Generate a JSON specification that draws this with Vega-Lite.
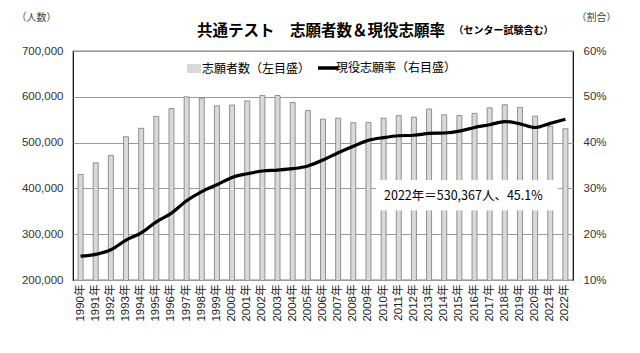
{
  "$schema": "https://vega.github.io/schema/vega-lite/v6.json",
  "width": 500,
  "height": 229,
  "autosize": {"type": "none"},
  "padding": {"left": 73, "top": 51, "right": 67, "bottom": 73},
  "background": "white",
  "config": {
    "view": {"stroke": "#000000", "strokeWidth": 1.2},
    "font": "Noto Sans CJK JP",
    "legend": {
      "orient": "none",
      "legendX": 115,
      "legendY": 11,
      "direction": "horizontal",
      "labelFontSize": 12,
      "labelFont": "Noto Sans CJK JP",
      "labelColor": "#000000",
      "symbolSize": 400,
      "columnPadding": 0,
      "labelOffset": 2
    }
  },
  "title": {
    "text": "共通テスト　志願者数＆現役志願率",
    "anchor": "start",
    "frame": "group",
    "dx": 124,
    "offset": -27,
    "fontSize": 15.5,
    "fontWeight": "bold",
    "font": "Noto Sans CJK JP",
    "color": "#000000"
  },
  "data": {
    "values": [
      {"year": "1990年", "applicants": 430542, "rate": 15.2},
      {"year": "1991年", "applicants": 455855, "rate": 15.6},
      {"year": "1992年", "applicants": 472098, "rate": 16.6},
      {"year": "1993年", "applicants": 512712, "rate": 18.7},
      {"year": "1994年", "applicants": 531177, "rate": 20.3},
      {"year": "1995年", "applicants": 557162, "rate": 22.7},
      {"year": "1996年", "applicants": 574115, "rate": 24.6},
      {"year": "1997年", "applicants": 599962, "rate": 27.3},
      {"year": "1998年", "applicants": 597271, "rate": 29.3},
      {"year": "1999年", "applicants": 580376, "rate": 30.8},
      {"year": "2000年", "applicants": 581958, "rate": 32.4},
      {"year": "2001年", "applicants": 590892, "rate": 33.2},
      {"year": "2002年", "applicants": 602887, "rate": 33.8},
      {"year": "2003年", "applicants": 602810, "rate": 34.0},
      {"year": "2004年", "applicants": 587350, "rate": 34.3},
      {"year": "2005年", "applicants": 569950, "rate": 34.9},
      {"year": "2006年", "applicants": 551382, "rate": 36.2},
      {"year": "2007年", "applicants": 553352, "rate": 37.8},
      {"year": "2008年", "applicants": 543385, "rate": 39.2},
      {"year": "2009年", "applicants": 543981, "rate": 40.5},
      {"year": "2010年", "applicants": 553368, "rate": 41.1},
      {"year": "2011年", "applicants": 558984, "rate": 41.5},
      {"year": "2012年", "applicants": 555537, "rate": 41.6},
      {"year": "2013年", "applicants": 573344, "rate": 42.0},
      {"year": "2014年", "applicants": 560672, "rate": 42.1},
      {"year": "2015年", "applicants": 559132, "rate": 42.5},
      {"year": "2016年", "applicants": 563768, "rate": 43.3},
      {"year": "2017年", "applicants": 575967, "rate": 43.9},
      {"year": "2018年", "applicants": 582671, "rate": 44.6},
      {"year": "2019年", "applicants": 576830, "rate": 44.1},
      {"year": "2020年", "applicants": 557699, "rate": 43.3},
      {"year": "2021年", "applicants": 535245, "rate": 44.2},
      {"year": "2022年", "applicants": 530367, "rate": 45.1}
    ]
  },
  "encoding": {
    "x": {
      "field": "year",
      "type": "ordinal",
      "scale": {"paddingInner": 0, "paddingOuter": 0},
      "axis": {
        "labelAngle": -90,
        "labelFontSize": 11.5,
        "labelFont": "Liberation Sans, Noto Sans CJK JP",
        "labelColor": "#222222",
        "labelPadding": 4,
        "ticks": false,
        "domain": false,
        "title": "（センター試験含む）",
        "titleX": 380,
        "titleY": -250,
        "titleAngle": 0,
        "titleAlign": "left",
        "titleBaseline": "middle",
        "titleFontSize": 10,
        "titleFontWeight": "bold",
        "titleColor": "#000000"
      }
    }
  },
  "layer": [
    {
      "mark": {"type": "bar", "size": 5, "stroke": "#7a7a7a", "strokeWidth": 0.8, "clip": true},
      "encoding": {
        "y": {
          "field": "applicants",
          "type": "quantitative",
          "scale": {"domain": [200000, 700000], "nice": false, "zero": false},
          "axis": {
            "values": [200000, 300000, 400000, 500000, 600000, 700000],
            "labelExpr": "format(datum.value, ',')",
            "labelFont": "Liberation Sans",
            "labelFontSize": 11.5,
            "labelColor": "#333333",
            "labelPadding": 10,
            "ticks": false,
            "domain": false,
            "grid": true,
            "gridColor": "#9a9a9a",
            "gridWidth": 1,
            "title": "（人数）",
            "titleAngle": 0,
            "titleX": -37,
            "titleY": -34,
            "titleAlign": "center",
            "titleBaseline": "middle",
            "titleFontSize": 10,
            "titleFontWeight": "normal",
            "titleColor": "#444444"
          }
        },
        "color": {
          "datum": "志願者数（左目盛）",
          "scale": {
            "domain": ["志願者数（左目盛）", "現役志願率（右目盛）"],
            "range": ["#d9d9d9", "#000000"]
          },
          "legend": {
            "title": null,
            "encode": {
              "symbols": {
                "update": {
                  "shape": {"signal": "datum.value === '志願者数（左目盛）' ? 'M-0.65,-0.4H0.65V0.4H-0.65Z' : 'M-1,0H1'"},
                  "fill": {"signal": "datum.value === '志願者数（左目盛）' ? '#d9d9d9' : 'transparent'"},
                  "stroke": {"signal": "datum.value === '志願者数（左目盛）' ? '#7a7a7a' : '#000000'"},
                  "strokeWidth": {"signal": "datum.value === '志願者数（左目盛）' ? 1 : 3.5"}
                }
              }
            }
          }
        }
      }
    },
    {
      "transform": [{"filter": "datum.year >= '2010年' && datum.year <= '2021年'"}],
      "mark": {"type": "rect", "fill": "#ffffff", "stroke": null},
      "encoding": {
        "y": {"datum": 352000, "type": "quantitative", "scale": {"domain": [200000, 700000], "nice": false, "zero": false}, "axis": null},
        "y2": {"datum": 418000}
      }
    },
    {
      "transform": [{"filter": "datum.year === '2015年'"}],
      "mark": {"type": "text", "fontSize": 12.5, "font": "Noto Sans CJK JP", "color": "#000000", "align": "center", "baseline": "middle", "dx": 4},
      "encoding": {
        "y": {"datum": 383000, "type": "quantitative", "scale": {"domain": [200000, 700000], "nice": false, "zero": false}, "axis": null},
        "text": {"value": "2022年＝530,367人、45.1%"}
      }
    },
    {
      "mark": {"type": "line", "strokeWidth": 3.2, "interpolate": "monotone"},
      "encoding": {
        "y": {
          "field": "rate",
          "type": "quantitative",
          "scale": {"domain": [10, 60], "nice": false, "zero": false},
          "axis": {
            "orient": "right",
            "values": [10, 20, 30, 40, 50, 60],
            "labelExpr": "datum.value + '%'",
            "labelFont": "Liberation Sans",
            "labelFontSize": 11.5,
            "labelColor": "#333333",
            "labelPadding": 10,
            "ticks": false,
            "domain": false,
            "grid": false,
            "title": "（割合）",
            "titleAngle": 0,
            "titleX": 23,
            "titleY": -34,
            "titleAlign": "center",
            "titleBaseline": "middle",
            "titleFontSize": 10,
            "titleFontWeight": "normal",
            "titleColor": "#444444"
          }
        },
        "color": {
          "datum": "現役志願率（右目盛）",
          "legend": {
            "title": null,
            "encode": {
              "symbols": {
                "update": {
                  "shape": {"signal": "datum.value === '志願者数（左目盛）' ? 'M-0.65,-0.4H0.65V0.4H-0.65Z' : 'M-1,0H1'"},
                  "fill": {"signal": "datum.value === '志願者数（左目盛）' ? '#d9d9d9' : 'transparent'"},
                  "stroke": {"signal": "datum.value === '志願者数（左目盛）' ? '#7a7a7a' : '#000000'"},
                  "strokeWidth": {"signal": "datum.value === '志願者数（左目盛）' ? 1 : 3.5"}
                }
              }
            }
          }
        }
      }
    }
  ],
  "resolve": {"scale": {"y": "independent"}}
}
